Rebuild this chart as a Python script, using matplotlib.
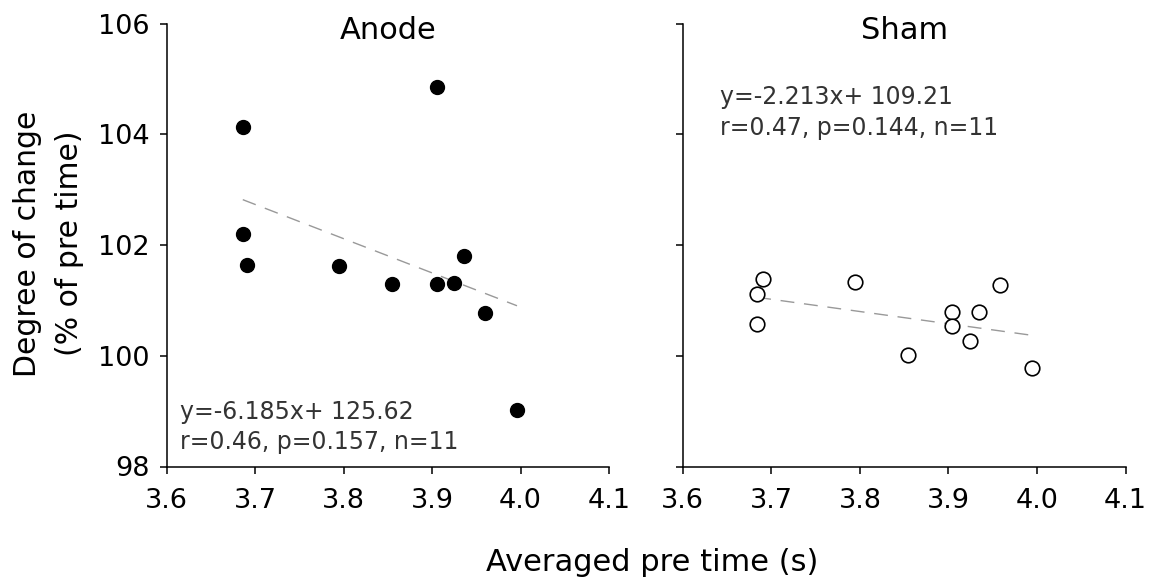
import matplotlib
matplotlib.use("Agg")
import matplotlib.pyplot as plt
import numpy as np

plt.rcParams['font.family'] = ['DejaVu Sans']

# Data
anode_x = [3.686, 3.906, 3.686, 3.691, 3.795, 3.855, 3.906, 3.925, 3.936, 3.960, 3.996]
anode_y = [104.14, 104.85, 102.21, 101.64, 101.63, 101.30, 101.30, 101.32, 101.80, 100.77, 99.02]
sham_x = [3.690, 3.684, 3.684, 3.794, 3.854, 3.904, 3.904, 3.934, 3.924, 3.958, 3.994]
sham_y = [101.39, 101.12, 100.58, 101.34, 100.02, 100.79, 100.54, 100.79, 100.27, 101.28, 99.78]

anode_fit = (-6.185, 125.62)
sham_fit = (-2.213, 109.21)

anode_lines = ["y=-6.185x+ 125.62", "r=0.46, p=0.157, n=11"]
sham_lines = ["y=-2.213x+ 109.21", "r=0.47, p=0.144, n=11"]

titles = ["Anode", "Sham"]
xticks = [3.6, 3.7, 3.8, 3.9, 4.0, 4.1]
yticks = [98, 100, 102, 104, 106]
ylabel_lines = ["Degree of change", "(% of pre time)"]
xlabel = "Averaged pre time (s)"

W, H = 1154, 586
fig = plt.figure(figsize=(W / 100, H / 100), dpi=100)

def fx(x):
    return x / W

def fy(y):
    return 1 - y / H

def px_axes(x0, x1, y0, y1):
    return fig.add_axes([fx(x0), fy(y1), (x1 - x0) / W, (y1 - y0) / H])

ax1 = px_axes(166.7, 609.0, 23.8, 466.5)
ax2 = px_axes(682.8, 1125.6, 23.8, 466.5)

for ax in (ax1, ax2):
    ax.set_xlim(3.6, 4.1)
    ax.set_ylim(98, 106)
    ax.set_xticks(xticks)
    ax.set_xticklabels([f"{t:.1f}" for t in xticks])
    ax.set_yticks(yticks)
    for s in ('top', 'right'):
        ax.spines[s].set_visible(False)
    for s in ('left', 'bottom'):
        ax.spines[s].set_linewidth(1.1)
    ax.tick_params(direction='out', length=5, width=1.1, labelsize=19.5)
    ax.tick_params(axis='x', pad=10.5)
    ax.tick_params(axis='y', pad=7.5)

ax2.set_yticklabels([])

# Anode
ax1.scatter(anode_x, anode_y, s=100, color='black', zorder=3, clip_on=False)
xs = np.array([min(anode_x), max(anode_x)])
ax1.plot(xs, anode_fit[0] * xs + anode_fit[1], color='#999999', lw=1.0,
         dashes=(10, 7), zorder=2)

# Sham
ax2.scatter(sham_x, sham_y, s=110, facecolor='white', edgecolor='black',
            linewidth=1.2, zorder=3, clip_on=False)
xs = np.array([min(sham_x), max(sham_x)])
ax2.plot(xs, sham_fit[0] * xs + sham_fit[1], color='#999999', lw=1.0,
         dashes=(10, 7), zorder=2)

# Annotations (pixel-placed, baseline aligned)
for i, line in enumerate(anode_lines):
    fig.text(fx(180), fy(419.3 + 30 * i), line, fontsize=17, color='#333333',
             ha='left', va='baseline')
for i, line in enumerate(sham_lines):
    fig.text(fx(719.6), fy(103.6 + 31 * i), line, fontsize=17, color='#333333',
             ha='left', va='baseline')

# Titles
fig.text(fx((166.7 + 609.0) / 2), fy(38.6), titles[0], fontsize=22,
         ha='center', va='baseline')
fig.text(fx((682.8 + 1125.6) / 2), fy(38.6), titles[1], fontsize=22,
         ha='center', va='baseline')

# Y label (two rotated lines)
for xb, line in zip([36.5, 77.7], ylabel_lines):
    fig.text(fx(xb), fy(243.4), line, fontsize=21.5, rotation=90,
             rotation_mode='anchor', ha='center', va='baseline')

# X label
fig.text(fx(652), fy(571), xlabel, fontsize=22, ha='center', va='baseline')

fig.savefig("out.png", dpi=100)
